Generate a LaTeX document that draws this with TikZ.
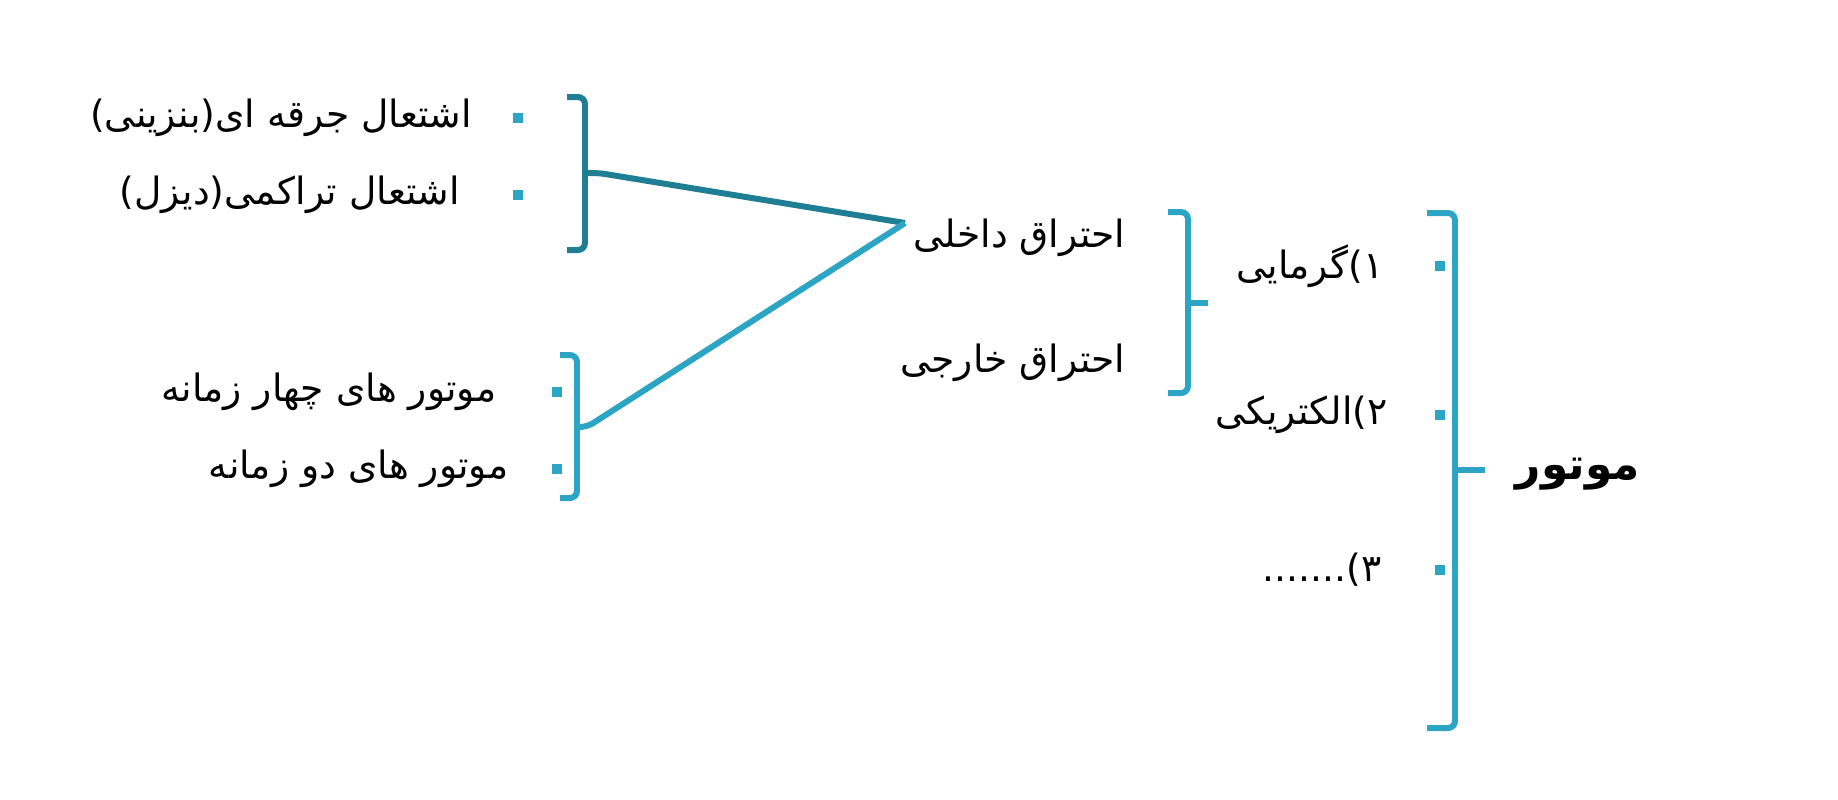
\documentclass[tikz,border=0pt]{standalone}
\usepackage{fontspec}
\newfontfamily\arabicfont[Script=Arabic]{DejaVu Sans}
\TeXXeTstate=1
\usetikzlibrary{positioning}
\definecolor{tealL}{RGB}{44,165,196}
\definecolor{tealD}{RGB}{31,126,148}
\newcommand{\fa}[1]{\beginR #1\endR}

\begin{document}
\begin{tikzpicture}[x=0.01cm,y=-0.01cm,
    sq/.style={fill=tealL,minimum size=0.1cm,inner sep=0pt},
    item/.style={inner sep=0pt,font=\arabicfont\fontsize{10.7}{12}\selectfont},
    brk/.style={line width=1.7pt,rounded corners=2pt}]
   \useasboundingbox (0,0) rectangle (1838,799);
   % bullets
   \node[sq] (s1) at (518,118) {};
   \node[sq] (s2) at (518,195) {};
   \node[sq] (s3) at (557,392) {};
   \node[sq] (s4) at (557,469) {};
   \node[sq] (m1) at (1440,266) {};
   \node[sq] (m2) at (1440,415) {};
   \node[sq] (m3) at (1440,570) {};
   % texts
   \node[item,left=0.40cm of s1] (t1) {\fa{اشتعال جرقه ای(بنزینی)}};
   \node[item,left=0.52cm of s2] (t2) {\fa{اشتعال تراکمی(دیزل)}};
   \node[item,left=0.54cm of s3] (t3) {\fa{موتور های چهار زمانه}};
   \node[item,left=0.42cm of s4] (t4) {\fa{موتور های دو زمانه}};
   \node[item,anchor=east] (inner) at (1126,238) {\fa{احتراق داخلی}};
   \node[item,anchor=east] (outer) at (1126,363) {\fa{احتراق خارجی}};
   \node[item,left=0.50cm of m1] (r1) {\fa{۱)گرمایی}};
   \node[item,left=0.46cm of m2] (r2) {\fa{۲)الکتریکی}};
   \node[item,left=0.52cm of m3] (r3) {\fa{۳).......}};
   \node[item,anchor=west,font=\arabicfont\bfseries\fontsize{12.5}{14}\selectfont] (motor) at (1515,474) {\fa{موتور}};
   % brackets
   \draw[brk,tealD] (567,97) -- (585,97) -- (585,250) -- (567,250);
   \draw[brk,tealL] (560,355) -- (577,355) -- (577,498) -- (560,498);
   \draw[brk,tealL] (1168,212) -- (1188,212) -- (1188,393) -- (1168,393);
   \draw[brk,tealL] (1427,213) -- (1455,213) -- (1455,728) -- (1427,728);
   \coordinate (tipA) at (585,173);
   \coordinate (tipB) at (577,427);
   \coordinate (tipC) at (1188,303);
   \coordinate (tipD) at (1455,470);
   \coordinate (meet) at (905,223);
   % connectors
   \draw[brk,tealD] (tipA) -- ++(14,0) -- (meet);
   \draw[brk,tealL] (tipB) -- ++(10,0) -- (meet);
   \draw[brk,tealL] (tipC) -- ++(20,0);
   \draw[brk,tealL] (tipD) -- ++(30,0);
\end{tikzpicture}
\end{document}
